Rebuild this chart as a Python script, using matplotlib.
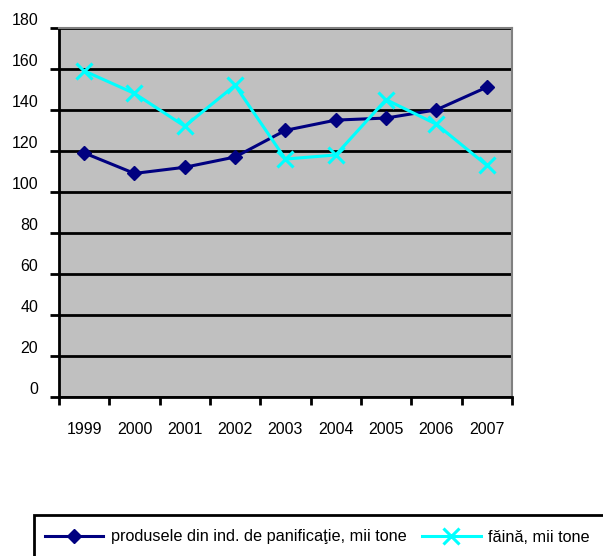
import matplotlib.pyplot as plt
from matplotlib.patches import Rectangle

plt.rcParams['font.family'] = ['Liberation Sans', 'DejaVu Sans']

years = ['1999', '2000', '2001', '2002', '2003', '2004', '2005', '2006', '2007']
paine = [119, 109, 112, 117, 130, 135, 136, 140, 151]
faina = [159, 148, 132, 152, 116, 118, 145, 133, 113]
yticks = [0, 20, 40, 60, 80, 100, 120, 140, 160, 180]

fig = plt.figure(figsize=(6.03, 5.56), dpi=100)
ax = fig.add_axes([0.0978, 0.286, 0.751, 0.664])

x = list(range(len(years)))
ax.set_facecolor('#c0c0c0')
ax.plot(x, paine, color='#000080', lw=2.2, marker='D', ms=7.5,
        label='produsele din ind. de panificaţie, mii tone')
ax.plot(x, faina, color='#00ffff', lw=2.2, marker='x', ms=11, mew=2.2,
        label='făină, mii tone')

ax.set_xlim(-0.5, len(years) - 0.5)
ax.set_ylim(0, 180)
ax.set_yticks(yticks)
# etichetele Y stau putin deasupra liniilor
ax.set_yticklabels([str(v) for v in yticks], fontsize=11.5, va='bottom')
ax.yaxis.grid(True, color='black', lw=2)
ax.set_axisbelow(True)

ax.set_xticks(x)
ax.set_xticklabels(years, fontsize=11.5)
ax.set_xticks([i - 0.5 for i in range(len(years) + 1)], minor=True)
ax.tick_params(axis='x', which='major', length=0, pad=18)
ax.tick_params(axis='x', which='minor', length=6, width=2, direction='out')
ax.tick_params(axis='y', length=6.5, width=2, pad=8.5)

for s in ['left', 'bottom']:
    ax.spines[s].set_linewidth(2)
    ax.spines[s].set_color('black')
for s in ['right', 'top']:
    ax.spines[s].set_linewidth(1.5)
    ax.spines[s].set_color('#808080')

# cadrul legendei, iese din figura
fig.patches.append(Rectangle((34 / 603, -0.1), 1.0, 0.1 + 41 / 556,
                             transform=fig.transFigure, fill=False,
                             edgecolor='black', lw=2, clip_on=False))
fig.legend(loc='center left', bbox_to_anchor=(45 / 603, 19 / 556), ncol=2,
           frameon=False, fontsize=11.7, handlelength=3.6, handletextpad=0.45,
           columnspacing=0.95, borderpad=0, borderaxespad=0)

fig.savefig('out.png', dpi=100)
